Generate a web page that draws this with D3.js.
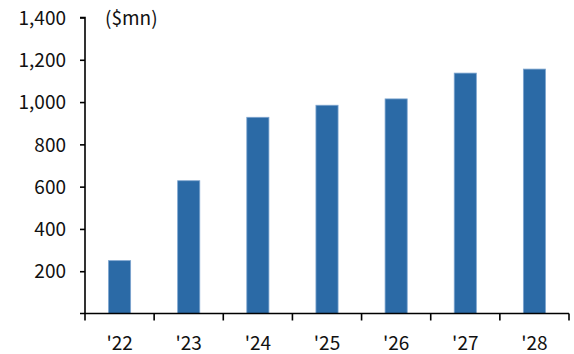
<!DOCTYPE html>
<html>
<head>
<meta charset="utf-8">
<script src="https://cdn.jsdelivr.net/npm/d3@7"></script>
<style>
  html, body { margin: 0; padding: 0; background: #fff; }
  svg text { font-family: "Noto Sans CJK KR", "Noto Sans", sans-serif; fill: #111; }
</style>
</head>
<body>
<svg id="chart" width="574" height="354"></svg>
<script>
// Annual values, $mn
const years = ["'22", "'23", "'24", "'25", "'26", "'27", "'28"];
const values = [250, 628, 928, 985, 1015, 1137, 1156];
const yTicks = [200, 400, 600, 800, 1000, 1200, 1400];
const unitLabel = "($mn)";

const svg = d3.select("#chart");
const plotLeft = 85, plotRight = 569, plotTop = 17.5, plotBottom = 313.5;

const x = d3.scaleBand().domain(years).range([plotLeft, plotRight]).padding(0);
const y = d3.scaleLinear().domain([0, 1400]).range([plotBottom, plotTop]);

const barFrac = 0.32;

// bars
svg.append("g").selectAll("rect")
  .data(values)
  .join("rect")
  .attr("x", (d, i) => x(years[i]) + x.bandwidth() * (1 - barFrac) / 2)
  .attr("width", x.bandwidth() * barFrac)
  .attr("y", d => y(d))
  .attr("height", d => y(0) - y(d))
  .attr("fill", "#2B6AA6")
  .attr("stroke", "#7EA5CF")
  .attr("stroke-width", 0.8);

// y axis
const yAxis = d3.axisLeft(y)
  .tickValues(yTicks)
  .tickSize(5)
  .tickPadding(14)
  .tickFormat(d3.format(","));
const gy = svg.append("g").attr("transform", `translate(${plotLeft},0)`).call(yAxis);
gy.select(".domain").attr("d", `M-5,${plotTop}H0V${plotBottom}`).attr("stroke", "#000").attr("stroke-width", 1.6);
gy.selectAll(".tick line").attr("stroke", "#000").attr("stroke-width", 1.6);
gy.selectAll(".tick text").style("font-size", "19px").attr("dy", "0.35em");

// x axis: ticks at band boundaries
const xAxisLine = svg.append("g");
xAxisLine.append("line")
  .attr("x1", plotLeft - 5).attr("x2", plotRight)
  .attr("y1", plotBottom).attr("y2", plotBottom)
  .attr("stroke", "#000").attr("stroke-width", 1.6);
const boundaries = years.map(d => x(d)).concat([x(years[years.length - 1]) + x.bandwidth()]);
xAxisLine.selectAll("line.tk")
  .data(boundaries)
  .join("line")
  .attr("class", "tk")
  .attr("x1", d => d).attr("x2", d => d)
  .attr("y1", plotBottom).attr("y2", plotBottom + 7)
  .attr("stroke", "#000").attr("stroke-width", 1.6);

svg.append("g").selectAll("text")
  .data(years)
  .join("text")
  .attr("x", d => x(d) + x.bandwidth() / 2)
  .attr("y", 350)
  .attr("text-anchor", "middle")
  .style("font-size", "19px")
  .text(d => d);

// unit label
svg.append("text")
  .attr("x", 105)
  .attr("y", 25)
  .style("font-size", "19px")
  .text(unitLabel);
</script>
</body>
</html>
